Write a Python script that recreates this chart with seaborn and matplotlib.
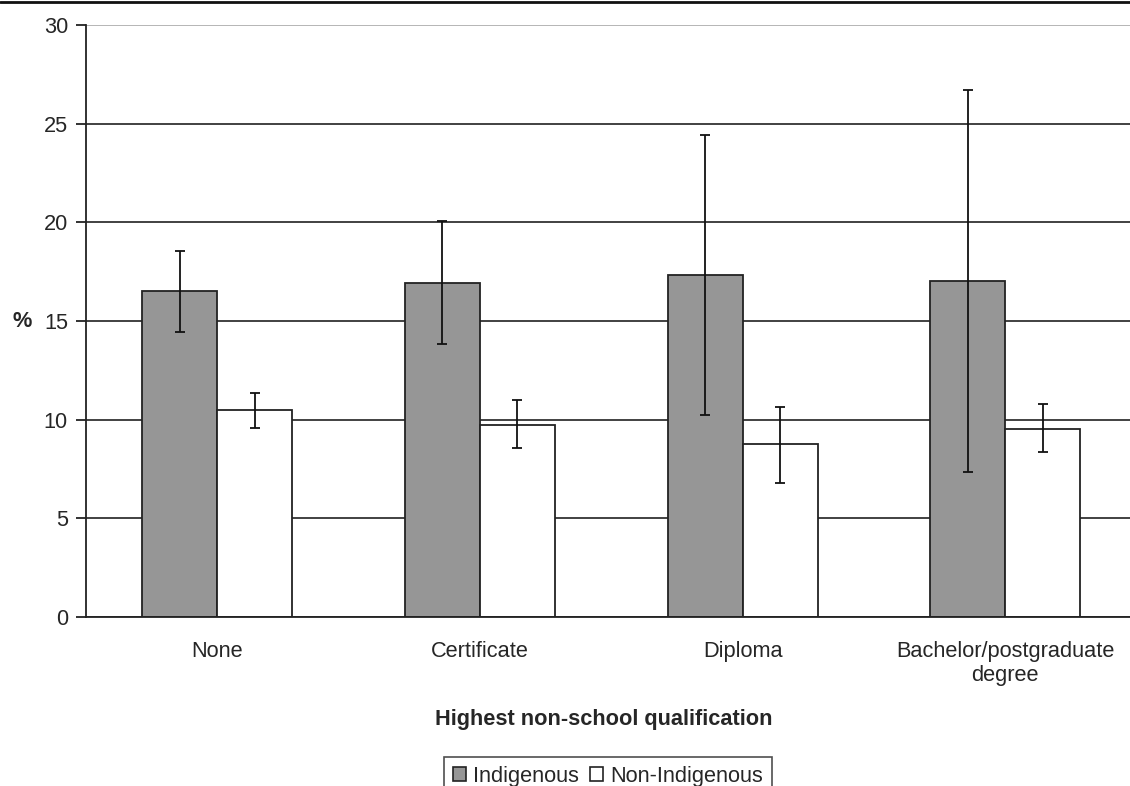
import matplotlib
matplotlib.use("Agg")
import matplotlib.pyplot as plt
from matplotlib.patches import Patch
from matplotlib.lines import Line2D
import seaborn as sns
import pandas as pd

# values
qualifications = ["None", "Certificate", "Diploma", "Bachelor/postgraduate\ndegree"]
groups = ["Indigenous", "Non-Indigenous"]
indigenous = [16.5, 16.95, 17.35, 17.05]
indigenous_lo = [14.45, 13.85, 10.25, 7.35]
indigenous_hi = [18.55, 20.05, 24.45, 26.7]
non_indigenous = [10.5, 9.75, 8.75, 9.55]
non_indigenous_lo = [9.6, 8.55, 6.8, 8.35]
non_indigenous_hi = [11.35, 11.0, 10.65, 10.8]

FS = 15.7

sns.set_style("white")
plt.rcParams['font.family'] = ['Liberation Sans', 'DejaVu Sans']
plt.rcParams['font.size'] = FS

df = pd.DataFrame({
    "qual": qualifications * 2,
    "group": [groups[0]] * 4 + [groups[1]] * 4,
    "pct": indigenous + non_indigenous,
})

fig = plt.figure(figsize=(11.3, 7.86), dpi=100)
ax = fig.add_axes([86 / 1130, 1 - 617 / 786, 1050.6 / 1130, 592 / 786])

colors = ["#969696", "#ffffff"]
sns.barplot(data=df, x="qual", y="pct", hue="group", palette=colors,
            edgecolor="#222222", linewidth=1.3, width=0.5714, errorbar=None,
            legend=False, ax=ax, zorder=2)

# error bars at the bar centres
lows = [indigenous_lo, non_indigenous_lo]
highs = [indigenous_hi, non_indigenous_hi]
for cont, lo, hi, vals in zip(ax.containers, lows, highs, [indigenous, non_indigenous]):
    xs = [p.get_x() + p.get_width() / 2 for p in cont.patches]
    err = [[v - l for v, l in zip(vals, lo)], [h - v for v, h in zip(vals, hi)]]
    ax.errorbar(xs, vals, yerr=err, fmt="none", ecolor="#111111",
                elinewidth=1.3, capsize=3.5, capthick=1.3, zorder=3)

ax.set_xlim(-0.5, 3.5)
ax.set_ylim(0, 30)
ax.set_yticks(range(0, 31, 5))
ax.yaxis.grid(True, color="#333333", linewidth=1.3)
ax.set_axisbelow(True)
ax.get_ygridlines()[-1].set_color("#b0b0b0")

sns.despine(ax=ax, top=True, right=True)
for s in ["left", "bottom"]:
    ax.spines[s].set_color("#222222")
    ax.spines[s].set_linewidth(1.3)

ax.set_xlabel("")
ax.set_ylabel("")
ax.tick_params(axis="x", which="major", length=0, pad=17, labelsize=FS)
ax.set_xticks([-0.5, 0.5, 1.5, 2.5], minor=True)
ax.tick_params(axis="x", which="minor", length=7, width=1.3, color="#222222",
               direction="out")
ax.tick_params(axis="y", length=7, width=1.3, color="#222222", pad=6,
               labelsize=FS, left=True)

fig.text(22 / 1130, 1 - 321 / 786, "%", fontsize=FS, fontweight="bold",
         ha="center", va="center")
fig.text(604 / 1130, 1 - 719 / 786, "Highest non-school qualification",
         fontsize=FS, fontweight="bold", ha="center", va="center")

handles = [Patch(facecolor=c, edgecolor="#222222", linewidth=1.2) for c in colors]
fig.legend(handles, groups, loc="upper center", ncol=2,
           bbox_to_anchor=(608 / 1130, 1 - 757 / 786), fontsize=FS,
           frameon=True, fancybox=False, edgecolor="#222222",
           handlelength=0.6, handleheight=0.6, handletextpad=0.35,
           columnspacing=0.5, borderpad=0.4, borderaxespad=0)
fig.legends[0].get_frame().set_linewidth(1.2)

# page rule across the top
fig.add_artist(Line2D([0, 1], [0.997, 0.997], color="#111111", linewidth=2,
                      transform=fig.transFigure))

fig.savefig("out.png", dpi=100)
